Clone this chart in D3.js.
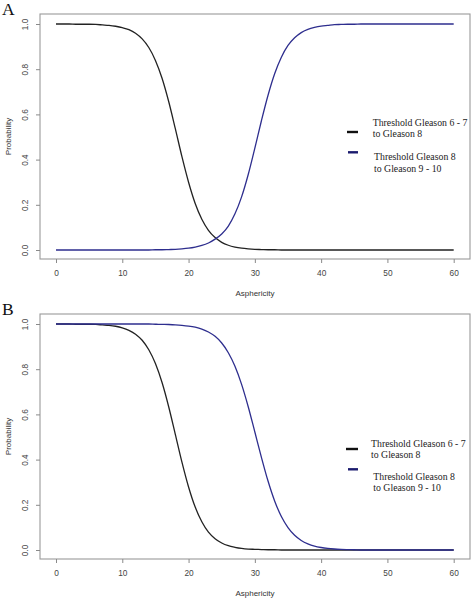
<!DOCTYPE html>
<html>
<head>
<meta charset="utf-8">
<script src="https://cdn.jsdelivr.net/npm/d3@7"></script>
<style>
  html, body { margin: 0; padding: 0; background: #fff; }
  svg { display: block; }
</style>
</head>
<body>
<svg id="chart" width="472" height="600"></svg>
<script>
// ---------- data ----------
const asphericity = [0,1,2,3,4,5,6,7,8,9,10,11,12,13,14,15,16,17,18,19,20,21,22,23,24,25,26,27,28,29,30,
  31,32,33,34,35,36,37,38,39,40,41,42,43,44,45,46,47,48,49,50,51,52,53,54,55,56,57,58,59,60];

// Panel A
const panelABlack = [1.000,1.000,1.000,0.999,0.999,0.999,0.998,0.996,0.994,0.990,0.984,0.975,0.959,0.934,0.896,0.839,
  0.760,0.657,0.537,0.413,0.300,0.206,0.136,0.087,0.055,0.034,0.021,0.013,0.008,0.005,0.003,0.002,0.001,0.001,
  0,0,0,0,0,0,0,0,0,0,0,0,0,0,0,0,0,0,0,0,0,0,0,0,0,0,0];
const panelABlue = [0,0,0,0,0,0,0,0,0,0,0,0,0,0,0,0.001,0.001,0.002,0.003,0.005,0.008,0.013,0.020,0.031,0.048,0.071,
  0.106,0.160,0.235,0.334,0.451,0.573,0.686,0.781,0.853,0.905,0.939,0.962,0.976,0.985,0.991,0.994,0.997,0.998,0.999,0.999,
  1,1,1,1,1,1,1,1,1,1,1,1,1,1,1];

// Panel B
const panelBBlack = [1.000,1.000,1.000,0.999,0.999,0.999,0.998,0.996,0.994,0.990,0.983,0.972,0.955,0.928,0.886,0.825,
  0.741,0.634,0.512,0.389,0.279,0.190,0.125,0.079,0.050,0.031,0.019,0.012,0.007,0.004,0.003,0.002,0.001,0.001,
  0,0,0,0,0,0,0,0,0,0,0,0,0,0,0,0,0,0,0,0,0,0,0,0,0,0,0];
const panelBBlue = [1,1,1,1,1,1,1,1,1,1,1,1,1,1,1,0.999,0.9985,0.9977,0.9964,0.9942,0.9909,0.9857,0.9775,0.9647,0.9453,0.916,
  0.873,0.813,0.733,0.634,0.522,0.409,0.304,0.216,0.148,0.099,0.065,0.042,0.027,0.017,0.011,0.007,0.0044,0.0028,0.0018,0.001,
  0,0,0,0,0,0,0,0,0,0,0,0,0,0,0];

const xTicks = [0,10,20,30,40,50,60];
const yTicks = [0,0.2,0.4,0.6,0.8,1.0];
const yTickLabels = ["0.0","0.2","0.4","0.6","0.8","1.0"];
const legendLabels = [["Threshold Gleason 6 - 7","to Gleason 8"],["Threshold Gleason 8","to Gleason 9 - 10"]];
const panelLabels = ["A","B"];
const xTitle = "Asphericity";
const yTitle = "Probability";

// ---------- drawing ----------
const svg = d3.select("#chart");
const curveColors = ["#222222", "#2e2e8e"];
const legendColors = ["#111111", "#1b1b6e"];
const left = 40, right = 470;

const x = d3.scaleLinear().domain([0,60]).range([56, 453.7]);

function drawPanel(top, series, label, legend) {
  const bottom = top + 245;
  const y = d3.scaleLinear().domain([0,1]).range([top + 236, top + 10]);
  const g = svg.append("g");

  // panel letter
  svg.append("text").attr("x", 2).attr("y", top + 1)
    .attr("font-family", "Liberation Serif, Times New Roman, serif")
    .attr("font-size", 17.5).attr("fill", "#111").text(label);

  // box
  g.append("rect").attr("x", left).attr("y", top).attr("width", right - left).attr("height", bottom - top)
    .attr("fill", "none").attr("stroke", "#9a9a9a").attr("stroke-width", 1.1);

  // x axis
  const xa = g.append("g").attr("transform", `translate(0,${bottom})`)
    .call(d3.axisBottom(x).tickValues(xTicks).tickFormat(d3.format("d")).tickSize(4).tickPadding(7));
  xa.select(".domain").remove();
  xa.selectAll("line").attr("stroke", "#8a8a8a");
  xa.selectAll("text").attr("font-family", "Liberation Sans, Arial, sans-serif").attr("font-size", 8.3).attr("fill", "#444");

  // y axis
  const ya = g.append("g").attr("transform", `translate(${left},0)`)
    .call(d3.axisLeft(y).tickValues(yTicks).tickFormat((d,i) => yTickLabels[i]).tickSize(4));
  ya.select(".domain").remove();
  ya.selectAll("line").attr("stroke", "#8a8a8a");
  ya.selectAll("text")
    .attr("x", null).attr("dy", null)
    .attr("transform", "translate(-15,0) rotate(-90)")
    .attr("text-anchor", "middle").attr("dominant-baseline", "central")
    .attr("font-family", "Liberation Sans, Arial, sans-serif").attr("font-size", 8.3).attr("fill", "#444");

  // axis titles
  g.append("text").attr("x", (left + right) / 2).attr("y", bottom + 37)
    .attr("text-anchor", "middle").attr("font-family", "Liberation Sans, Arial, sans-serif")
    .attr("font-size", 8).attr("fill", "#333").text(xTitle);
  g.append("text").attr("transform", `translate(8.5,${(top + bottom) / 2}) rotate(-90)`)
    .attr("text-anchor", "middle").attr("dominant-baseline", "central")
    .attr("font-family", "Liberation Sans, Arial, sans-serif")
    .attr("font-size", 8).attr("fill", "#333").text(yTitle);

  // curves
  const line = d3.line().x((d, i) => x(asphericity[i])).y(d => y(d)).curve(d3.curveMonotoneX);
  series.forEach((s, k) => {
    g.append("path").datum(s).attr("d", line).attr("fill", "none")
      .attr("stroke", curveColors[k]).attr("stroke-width", 1.3);
  });

  // legend
  legend.forEach((L, k) => {
    g.append("line").attr("x1", L.lx1).attr("x2", 358).attr("y1", L.ly).attr("y2", L.ly)
      .attr("stroke", legendColors[k]).attr("stroke-width", 2.4);
    legendLabels[k].forEach((t, j) => {
      g.append("text").attr("x", L.tx).attr("y", L.ty + j * 11.5)
        .attr("font-family", "Liberation Serif, Times New Roman, serif")
        .attr("font-size", 9.8).attr("fill", "#222").text(t);
    });
  });
}

drawPanel(14, [panelABlack, panelABlue], panelLabels[0], [
  {lx1: 347, ly: 132, tx: 372.7, ty: 125.7},
  {lx1: 348, ly: 152.3, tx: 374, ty: 160}
]);
drawPanel(314, [panelBBlack, panelBBlue], panelLabels[1], [
  {lx1: 346, ly: 449, tx: 371, ty: 446.8},
  {lx1: 348, ly: 469.3, tx: 373.3, ty: 479.5}
]);
</script>
</body>
</html>
